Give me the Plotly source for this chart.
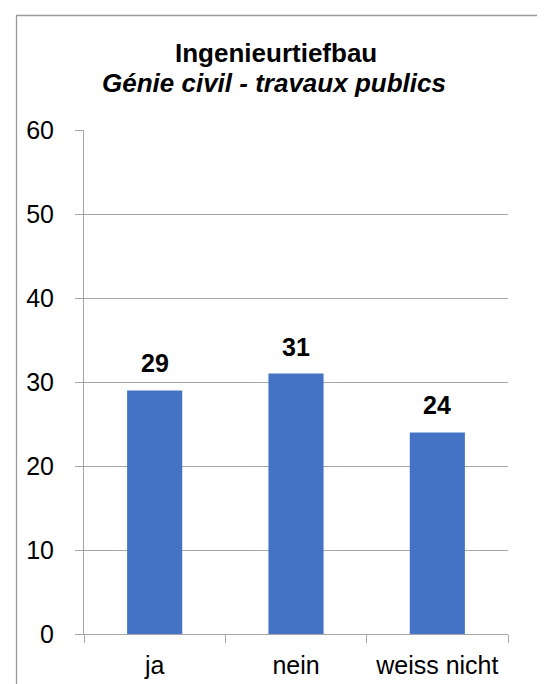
import plotly.graph_objects as go

categories = ["ja", "nein", "weiss nicht"]
values = [29, 31, 24]
y_ticks = [0, 10, 20, 30, 40, 50, 60]

FONT = "Liberation Sans, Arial, sans-serif"
L, R, T, B = 76, 45, 122, 58
W, H = 545, 684
pw, ph = W - L - R, H - T - B

def px_x(x):
    return (x - L) / pw

def px_y(y):
    return (H - B - y) / ph

fig = go.Figure(go.Bar(
    x=categories, y=values,
    marker=dict(color="#4472C4", line=dict(width=0)),
    width=0.39,
))

for c, v in zip(categories, values):
    fig.add_annotation(x=c, y=v, text=f"<b>{v}</b>", showarrow=False,
                       yanchor="bottom", yshift=11,
                       font=dict(family=FONT, size=25, color="black"))

fig.add_annotation(xref="paper", yref="paper", x=px_x(268), y=px_y(45),
                   text="<b>Ingenieurtiefbau</b>", showarrow=False,
                   xanchor="center", yanchor="middle",
                   font=dict(family=FONT, size=26, color="black"))
fig.add_annotation(xref="paper", yref="paper", x=px_x(266), y=px_y(75),
                   text="<b><i>Génie civil - travaux publics</i></b>", showarrow=False,
                   xanchor="center", yanchor="middle",
                   font=dict(family=FONT, size=26, color="black"))

fig.add_shape(type="rect", xref="paper", yref="paper",
              x0=px_x(8.5), y0=px_y(800), x1=px_x(700), y1=px_y(7.5),
              line=dict(color="#9a9a9a", width=1.3), fillcolor="rgba(0,0,0,0)")

fig.update_layout(
    width=W, height=H,
    margin=dict(l=L, r=R, t=T, b=B),
    paper_bgcolor="white", plot_bgcolor="white",
    showlegend=False,
    bargap=0.61,
    font=dict(family=FONT, size=25, color="black"),
)
fig.update_yaxes(range=[0, 60], tickvals=y_ticks, showgrid=True,
                 gridcolor="#a6a6a6", gridwidth=1,
                 showline=True, linecolor="#a6a6a6", linewidth=1,
                 ticks="outside", ticklen=8, tickcolor="#a6a6a6",
                 ticklabelstandoff=16, zeroline=False,
                 tickfont=dict(family=FONT, size=25, color="black"))
fig.update_xaxes(showline=True, linecolor="#a6a6a6", linewidth=1,
                 ticks="outside", ticklen=8, tickcolor="#a6a6a6",
                 tickson="boundaries", ticklabelstandoff=9,
                 tickfont=dict(family=FONT, size=25, color="black"))

fig.write_html("out.html")
